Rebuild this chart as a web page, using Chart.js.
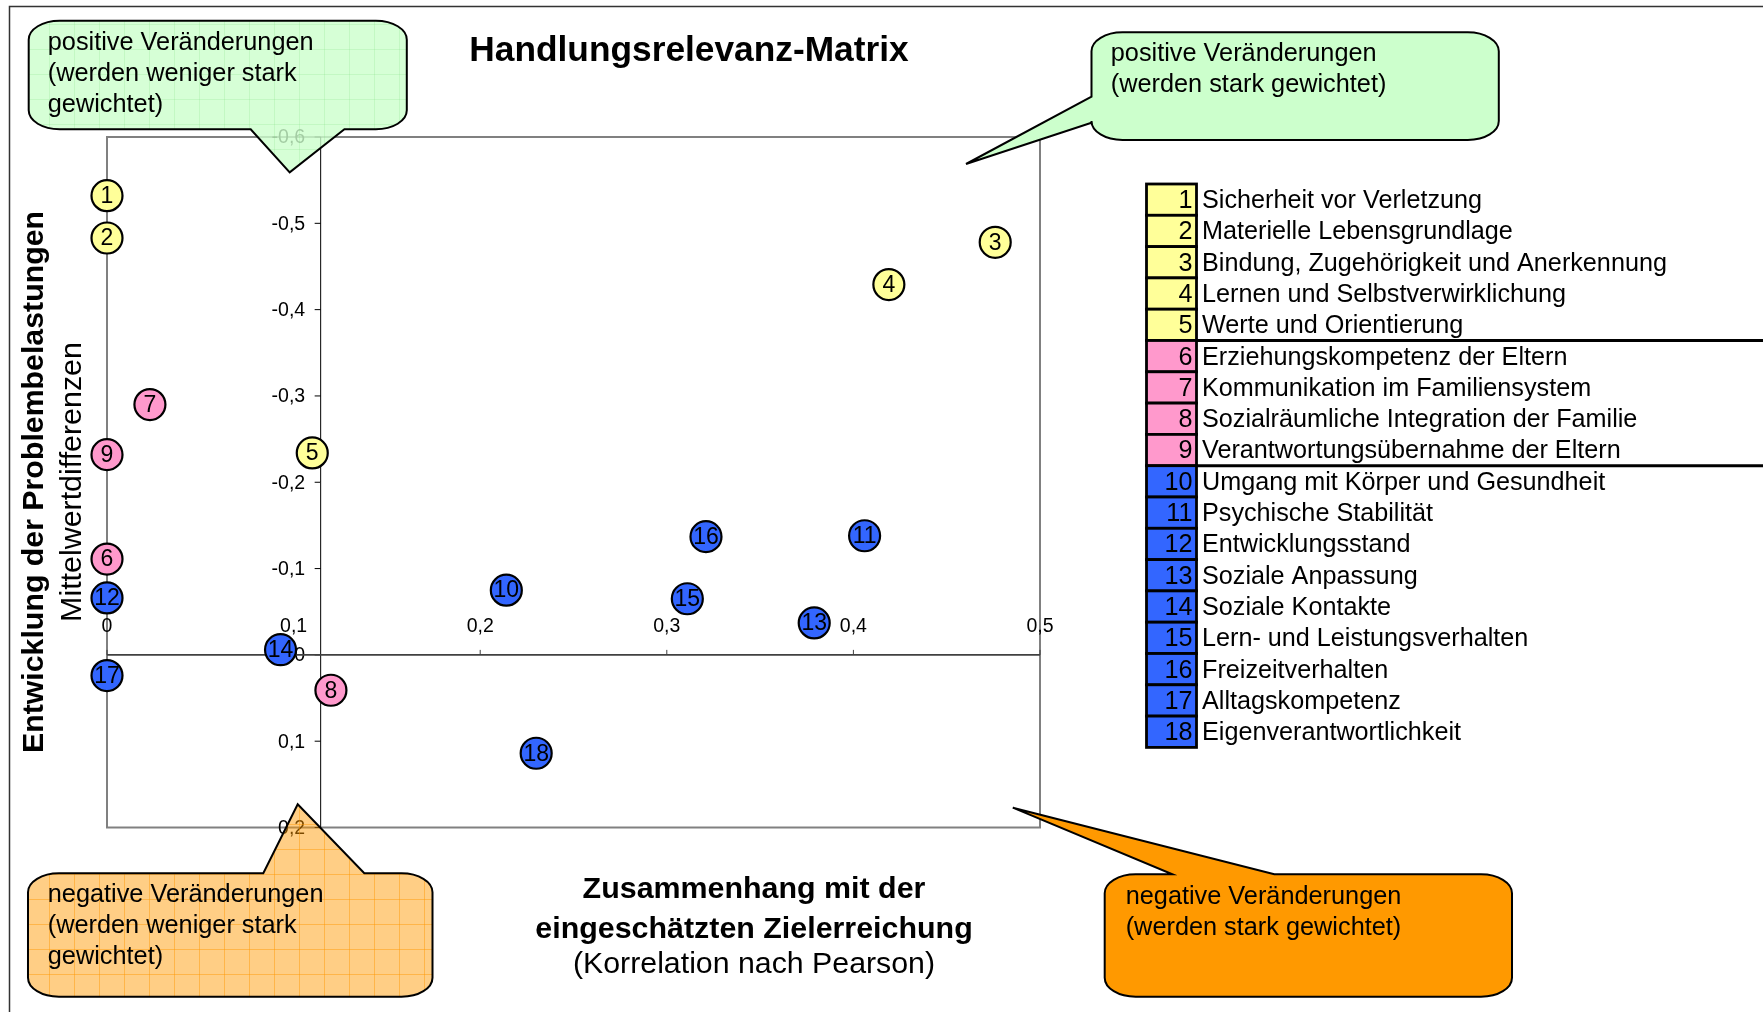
<!DOCTYPE html>
<html lang="de">
<head>
<meta charset="utf-8">
<title>Handlungsrelevanz-Matrix</title>
<script src="https://cdn.jsdelivr.net/npm/chart.js@4.4.1/dist/chart.umd.min.js"></script>
<style>
  html, body { margin: 0; padding: 0; background: #fff; overflow: hidden; }
  #matrixChart { display: block; }
</style>
</head>
<body>
<canvas id="matrixChart" width="1763" height="1012"></canvas>
<script>
// --- Daten ---

const itemNames = [
  'Sicherheit vor Verletzung',
  'Materielle Lebensgrundlage',
  'Bindung, Zugehörigkeit und Anerkennung',
  'Lernen und Selbstverwirklichung',
  'Werte und Orientierung',
  'Erziehungskompetenz der Eltern',
  'Kommunikation im Familiensystem',
  'Sozialräumliche Integration der Familie',
  'Verantwortungsübernahme der Eltern',
  'Umgang mit Körper und Gesundheit',
  'Psychische Stabilität',
  'Entwicklungsstand',
  'Soziale Anpassung',
  'Soziale Kontakte',
  'Lern- und Leistungsverhalten',
  'Freizeitverhalten',
  'Alltagskompetenz',
  'Eigenverantwortlichkeit'
];

// Gruppe je Item (0 = gelb, 1 = rosa, 2 = blau)
const itemGroup = [0, 0, 0, 0, 0, 1, 1, 1, 1, 2, 2, 2, 2, 2, 2, 2, 2, 2];
const groupColors = ['#FFFF99', '#FF99CC', '#3366FF'];

// Korrelation mit der Zielerreichung (x) und Mittelwertdifferenz (y)
const korrelation = [0, 0, 0.476, 0.419, 0.110, 0, 0.023, 0.120, 0, 0.214, 0.406, 0, 0.379, 0.093, 0.311, 0.321, 0, 0.230];
const mittelwertDiff = [-0.532, -0.483, -0.478, -0.429, -0.234, -0.111, -0.290, 0.041, -0.232, -0.075, -0.138, -0.066, -0.037, -0.006, -0.065, -0.137, 0.024, 0.114];

const xTicks = [0, 0.1, 0.2, 0.3, 0.4, 0.5];
const xTickLabels = ['0', '0,1', '0,2', '0,3', '0,4', '0,5'];
const yTicks = [-0.6, -0.5, -0.4, -0.3, -0.2, -0.1, 0, 0.1, 0.2];
const yTickLabels = ['-0,6', '-0,5', '-0,4', '-0,3', '-0,2', '-0,1', '0', '0,1', '0,2'];

// Größenachse schneidet die Rubrikenachse hier
const yAxisCrossX = 0.1145;

const FONT = '"Liberation Sans", Arial, Helvetica, sans-serif';

// --- Hilfsfunktionen ---

function line(ctx, x1, y1, x2, y2) {
  ctx.beginPath();
  ctx.moveTo(x1, y1);
  ctx.lineTo(x2, y2);
  ctx.stroke();
}

function text(ctx, str, x, y, font, align) {
  ctx.font = font;
  ctx.textAlign = align || 'left';
  ctx.textBaseline = 'middle';
  ctx.fillText(str, x, y);
}

function gridPattern(ctx, color) {
  const tile = document.createElement('canvas');
  tile.width = 25;
  tile.height = 25;
  const t = tile.getContext('2d');
  t.fillStyle = color;
  t.fillRect(24, 0, 1, 25);
  t.fillRect(0, 24, 25, 1);
  return ctx.createPattern(tile, 'repeat');
}

// Abgerundete Legende (Sprechblase) mit Spitze
function calloutPath(ctx, c) {
  const [x1, y1, x2, y2] = c.box;
  const rx = 31, ry = 19;
  const t = c.tail;
  ctx.beginPath();
  ctx.moveTo(x1 + rx, y1);
  if (t.side === 'top') {
    ctx.lineTo(t.a, y1);
    ctx.lineTo(t.tip[0], t.tip[1]);
    ctx.lineTo(t.b, y1);
  }
  ctx.lineTo(x2 - rx, y1);
  ctx.ellipse(x2 - rx, y1 + ry, rx, ry, 0, -Math.PI / 2, 0);
  ctx.lineTo(x2, y2 - ry);
  ctx.ellipse(x2 - rx, y2 - ry, rx, ry, 0, 0, Math.PI / 2);
  if (t.side === 'bottom') {
    ctx.lineTo(t.b, y2);
    ctx.lineTo(t.tip[0], t.tip[1]);
    ctx.lineTo(t.a, y2);
  }
  ctx.lineTo(x1 + rx, y2);
  ctx.ellipse(x1 + rx, y2 - ry, rx, ry, 0, Math.PI / 2, Math.PI);
  if (t.side === 'left') {
    ctx.lineTo(x1, t.b);
    ctx.lineTo(t.tip[0], t.tip[1]);
    ctx.lineTo(x1, t.a);
  }
  ctx.lineTo(x1, y1 + ry);
  ctx.ellipse(x1 + rx, y1 + ry, rx, ry, 0, Math.PI, Math.PI * 1.5);
  ctx.closePath();
}

const callouts = [
  {
    lines: ['positive Veränderungen', '(werden weniger stark', 'gewichtet)'],
    box: [28.7, 20.7, 406.8, 129.3],
    tail: { side: 'bottom', a: 250.7, b: 344.4, tip: [289.7, 172.3] },
    fill: 'rgba(204, 255, 204, 0.8)', grid: 'rgba(110, 215, 110, 0.18)',
    textX: 47.8, textY: 43
  },
  {
    lines: ['positive Veränderungen', '(werden stark gewichtet)'],
    box: [1091.5, 32.3, 1498.8, 140],
    tail: { side: 'left', a: 96.7, b: 122.7, tip: [966, 164] },
    fill: '#CCFFCC',
    textX: 1110.8, textY: 54
  },
  {
    lines: ['negative Veränderungen', '(werden weniger stark', 'gewichtet)'],
    box: [28, 873.3, 432.5, 996.7],
    tail: { side: 'top', a: 263.3, b: 364.3, tip: [297.7, 804.3] },
    fill: 'rgba(255, 153, 0, 0.48)', grid: 'rgba(255, 150, 0, 0.45)',
    textX: 47.8, textY: 895.5
  },
  {
    lines: ['negative Veränderungen', '(werden stark gewichtet)'],
    box: [1104.7, 874.3, 1512, 996.7],
    tail: { side: 'top', a: 1172.4, b: 1274.3, tip: [1012.8, 807.7] },
    fill: '#FF9900',
    textX: 1125.7, textY: 897
  }
];

// --- Plugins ---

const backgroundPlugin = {
  id: 'matrixBackground',
  beforeDraw(chart) {
    const ctx = chart.ctx;
    ctx.save();
    ctx.fillStyle = '#fff';
    ctx.fillRect(0, 0, chart.width, chart.height);
    // äußerer Rahmen
    ctx.strokeStyle = '#333';
    ctx.lineWidth = 1.5;
    ctx.strokeRect(9.5, 6.5, chart.width + 20, chart.height + 20);
    ctx.restore();
  }
};

const axesPlugin = {
  id: 'matrixAxes',
  beforeDatasetsDraw(chart) {
    const { ctx, chartArea: a, scales: { x, y } } = chart;
    ctx.save();

    ctx.strokeStyle = '#808080';
    ctx.lineWidth = 2;
    ctx.strokeRect(a.left, a.top, a.right - a.left, a.bottom - a.top);

    const x0 = x.getPixelForValue(yAxisCrossX);
    const y0 = y.getPixelForValue(0);
    ctx.fillStyle = '#000';

    // Größenachse (Mittelwertdifferenzen)
    ctx.strokeStyle = '#000';
    ctx.lineWidth = 1;
    line(ctx, x0, a.top, x0, a.bottom);
    yTicks.forEach((v, i) => {
      const py = y.getPixelForValue(v);
      line(ctx, x0 - 6, py, x0, py);
      text(ctx, yTickLabels[i], x0 - 15.5, py + 1, '19.5px ' + FONT, 'right');
    });

    // Rubrikenachse (Korrelation)
    ctx.strokeStyle = '#404040';
    ctx.lineWidth = 1.6;
    line(ctx, a.left, y0, a.right, y0);
    ctx.lineWidth = 1;
    xTicks.forEach((v, i) => {
      const px = x.getPixelForValue(v);
      line(ctx, px, y0 - 5, px, y0);
      text(ctx, xTickLabels[i], px, y0 - 28.5, '19.5px ' + FONT, 'center');
    });
    ctx.restore();
  },
  afterDatasetsDraw(chart) {
    const ctx = chart.ctx;
    const meta = chart.getDatasetMeta(0);
    ctx.save();
    ctx.fillStyle = '#000';
    meta.data.forEach((pt, i) => {
      text(ctx, String(i + 1), pt.x, pt.y + 1, '23px ' + FONT, 'center');
    });
    ctx.restore();
  }
};

const decorPlugin = {
  id: 'matrixDecor',
  afterDraw(chart) {
    const ctx = chart.ctx;
    ctx.save();
    ctx.fillStyle = '#000';

    // Titel und Achsentitel
    text(ctx, 'Handlungsrelevanz-Matrix', 689, 51, 'bold 35.3px ' + FONT, 'center');
    text(ctx, 'Zusammenhang mit der', 754, 890, 'bold 30.4px ' + FONT, 'center');
    text(ctx, 'eingeschätzten Zielerreichung', 754, 929.5, 'bold 30.4px ' + FONT, 'center');
    text(ctx, '(Korrelation nach Pearson)', 754, 965, '30.3px ' + FONT, 'center');

    ctx.save();
    ctx.translate(35, 482);
    ctx.rotate(-Math.PI / 2);
    text(ctx, 'Entwicklung der Problembelastungen', 0, 0, 'bold 30.3px ' + FONT, 'center');
    ctx.restore();
    ctx.save();
    ctx.translate(73, 482);
    ctx.rotate(-Math.PI / 2);
    text(ctx, 'Mittelwertdifferenzen', 0, 0, '30.4px ' + FONT, 'center');
    ctx.restore();

    // Legende als Tabelle
    const cellX = 1146.5, cellW = 50, rowTop = 184, rowH = 31.3;
    itemNames.forEach((name, i) => {
      const top = rowTop + i * rowH;
      ctx.fillStyle = groupColors[itemGroup[i]];
      ctx.fillRect(cellX, top, cellW, rowH);
      ctx.strokeStyle = '#000';
      ctx.lineWidth = 2.8;
      ctx.strokeRect(cellX, top, cellW, rowH);
      ctx.fillStyle = '#000';
      text(ctx, String(i + 1), cellX + cellW - 4, top + rowH / 2 + 1.5, '25.2px ' + FONT, 'right');
      text(ctx, name, 1202, top + rowH / 2 + 1.5, '25.2px ' + FONT, 'left');
      if (i < itemNames.length - 1 && itemGroup[i + 1] !== itemGroup[i]) {
        ctx.lineWidth = 3;
        line(ctx, cellX + cellW, top + rowH, chart.width, top + rowH);
      }
    });

    // Sprechblasen
    callouts.forEach(c => {
      calloutPath(ctx, c);
      ctx.fillStyle = c.fill;
      ctx.fill();
      if (c.grid) {
        ctx.fillStyle = gridPattern(ctx, c.grid);
        ctx.fill();
      }
      ctx.strokeStyle = '#000';
      ctx.lineWidth = 2;
      ctx.lineJoin = 'miter';
      ctx.stroke();
      ctx.fillStyle = '#000';
      c.lines.forEach((ln, k) => {
        text(ctx, ln, c.textX, c.textY + k * 31, '25.3px ' + FONT, 'left');
      });
    });
    ctx.restore();
  }
};

// --- Diagramm ---

const chartData = korrelation.map((v, i) => ({ x: v, y: mittelwertDiff[i] }));

new Chart(document.getElementById('matrixChart'), {
  type: 'scatter',
  data: {
    datasets: [{
      label: 'Items',
      data: chartData,
      pointBackgroundColor: itemGroup.map(g => groupColors[g]),
      pointBorderColor: '#000',
      pointBorderWidth: 2.2,
      pointRadius: 15.5,
      pointHoverRadius: 15.5,
      clip: false
    }]
  },
  options: {
    responsive: false,
    animation: false,
    devicePixelRatio: 1,
    events: [],
    layout: { padding: { left: 107, top: 137, right: 723, bottom: 184.5 } },
    scales: {
      x: { type: 'linear', min: 0, max: 0.5, display: false },
      y: { type: 'linear', min: -0.6, max: 0.2, reverse: true, display: false }
    },
    plugins: {
      legend: { display: false },
      title: { display: false },
      tooltip: { enabled: false }
    }
  },
  plugins: [backgroundPlugin, axesPlugin, decorPlugin]
});
</script>
</body>
</html>
